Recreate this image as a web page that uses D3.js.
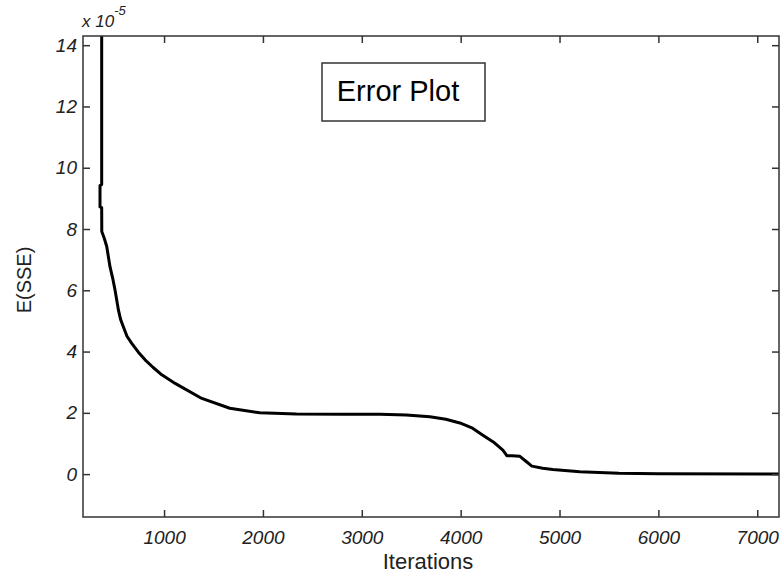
<!DOCTYPE html>
<html><head><meta charset="utf-8">
<script src="https://cdn.jsdelivr.net/npm/d3@7"></script>
<style>body{margin:0;background:#fff}svg{display:block}</style>
</head><body>
<script>
// Data (E(SSE) values in units of 1e-5)
const iterations = [369, 369, 352, 352, 369, 370, 395, 420, 453, 480, 504, 538, 560, 588, 625, 673, 740, 808, 890, 977, 1112, 1382, 1665, 1968, 2339, 2800, 3183, 3450, 3689, 3850, 3992, 4120, 4225, 4330, 4427, 4467, 4520, 4599, 4660, 4720, 4830, 4932, 5205, 5600, 6000, 7220];
const sse = [40, 9.45, 9.42, 8.72, 8.7, 7.92, 7.7, 7.43, 6.77, 6.4, 6.01, 5.36, 5.05, 4.81, 4.5, 4.27, 3.98, 3.73, 3.48, 3.24, 2.96, 2.47, 2.15, 2.0, 1.96, 1.95, 1.95, 1.93, 1.87, 1.79, 1.67, 1.5, 1.27, 1.05, 0.78, 0.6, 0.6, 0.58, 0.42, 0.26, 0.19, 0.15, 0.08, 0.03, 0.01, 0.0];
const xTicks = [1000, 2000, 3000, 4000, 5000, 6000, 7000];
const yTicks = [0, 2, 4, 6, 8, 10, 12, 14];
const xDomain = [180, 7220];
const yDomain = [-1.4, 14.3];

const W = 781, H = 577;
const L = 83, R = 779, T = 36, B = 517;
const svg = d3.select("body").append("svg").attr("width", W).attr("height", H);
const x = d3.scaleLinear().domain(xDomain).range([L, R]);
const y = d3.scaleLinear().domain(yDomain).range([B, T]);
const font = "'Liberation Sans', Arial, sans-serif";
const axisColor = "#333";

svg.append("defs").append("clipPath").attr("id", "clip")
  .append("rect").attr("x", L).attr("y", T).attr("width", R - L).attr("height", B - T);

// curve
const pts = iterations.map((d, i) => [d, sse[i]]);
svg.append("path").datum(pts)
  .attr("clip-path", "url(#clip)")
  .attr("fill", "none").attr("stroke", "#000").attr("stroke-width", 3)
  .attr("stroke-linejoin", "round")
  .attr("d", d3.line().x(d => x(d[0])).y(d => y(d[1])));

// axes
function styleAxis(g) {
  g.select(".domain").remove();
  g.selectAll(".tick line").attr("stroke", axisColor).attr("stroke-width", 1.5);
  g.selectAll(".tick text").attr("fill", "#222").attr("font-family", font)
    .attr("font-style", "italic").attr("font-size", 19);
}
svg.append("g").attr("transform", `translate(0,${B})`)
  .call(d3.axisBottom(x).tickValues(xTicks).tickFormat(d3.format("d")).tickSizeInner(-7).tickPadding(14))
  .call(styleAxis);
svg.append("g").attr("transform", `translate(0,${T})`)
  .call(d3.axisTop(x).tickValues(xTicks).tickFormat("").tickSizeInner(-7))
  .call(styleAxis);
svg.append("g").attr("transform", `translate(${L},0)`)
  .call(d3.axisLeft(y).tickValues(yTicks).tickFormat(d3.format("d")).tickSizeInner(-7).tickPadding(6))
  .call(styleAxis);
svg.append("g").attr("transform", `translate(${R},0)`)
  .call(d3.axisRight(y).tickValues(yTicks).tickFormat("").tickSizeInner(-7))
  .call(styleAxis);

// frame
svg.append("rect").attr("x", L).attr("y", T).attr("width", R - L).attr("height", B - T)
  .attr("fill", "none").attr("stroke", axisColor).attr("stroke-width", 1.5);

// exponent label
const ex = svg.append("text").attr("x", 82).attr("y", 27).attr("font-family", font)
  .attr("font-style", "italic").attr("font-size", 17).attr("fill", "#222");
ex.append("tspan").text("x 10");
ex.append("tspan").attr("dy", -12).attr("font-size", 13).text("-5");

// axis labels
svg.append("text").attr("x", 428).attr("y", 569).attr("text-anchor", "middle")
  .attr("font-family", font).attr("font-size", 22).attr("fill", "#222").text("Iterations");
svg.append("text").attr("transform", "translate(31,280) rotate(-90)").attr("text-anchor", "middle")
  .attr("font-family", font).attr("font-size", 20).attr("fill", "#222").text("E(SSE)");

// title box
svg.append("rect").attr("x", 322).attr("y", 63).attr("width", 163).attr("height", 58)
  .attr("fill", "#fff").attr("stroke", "#333").attr("stroke-width", 1.5);
svg.append("text").attr("x", 398).attr("y", 101).attr("text-anchor", "middle")
  .attr("font-family", font).attr("font-size", 29).attr("fill", "#000").text("Error Plot");
</script>
</body></html>
